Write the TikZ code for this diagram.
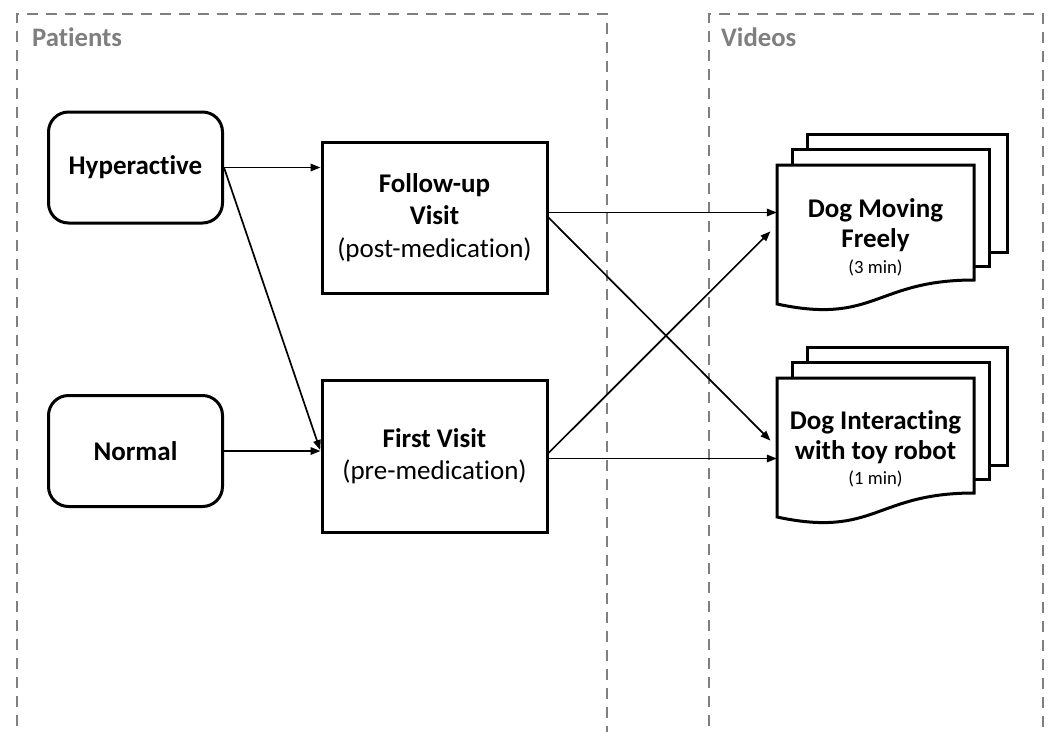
\documentclass[tikz,border=0pt]{standalone}
\usepackage{fontspec}
\setmainfont{Carlito}[Ligatures=NoCommon]
\usetikzlibrary{arrows.meta}
\definecolor{framegray}{HTML}{7F7F7F}

\begin{document}
\begin{tikzpicture}[x=1pt,y=-1pt,
  groupframe/.style={draw=framegray, line width=2.5pt, dash pattern=on 11pt off 8pt},
  grouplabel/.style={text=framegray, font=\fontsize{26.7}{32}\selectfont\bfseries,
    anchor=base west, inner sep=0pt},
  statebox/.style={draw, line width=3pt, rounded corners=20pt,
    minimum width=174pt, minimum height=111pt, inner sep=0pt,
    font=\fontsize{27}{32.6}\selectfont\bfseries},
  visitbox/.style={draw, line width=3pt, minimum width=225pt, minimum height=151pt,
    inner sep=0pt, align=center, font=\fontsize{27}{32.6}\selectfont},
  doctext/.style={inner sep=0pt, minimum width=197pt, align=center,
    font=\fontsize{27}{30}\selectfont\bfseries},
  docline/.style={line width=3pt, line join=miter},
  link/.style={-{Triangle[length=10pt,width=7.5pt]}, line width=1.7pt},
]
\useasboundingbox (0,0) rectangle (1051,731);

% group frames
\draw[groupframe] (17,745) -- (17,14) -- (607,14) -- (607,745);
\draw[groupframe] (709,745) -- (709,14) -- (1043,14) -- (1043,745);
\node[grouplabel] (patients) at (32,46) {Patients};
\node[grouplabel] (videos) at (721,46) {Videos};

% patient groups
\node[statebox] (hyper) at (135.5,167.5) {Hyperactive};
\node[statebox] (normal) at (135.5,451) {Normal};

% visits
\node[visitbox] (followup) at (434.5,217.5)
  {\textbf{Follow-up}\\\textbf{Visit}\\(post-medication)};
\node[visitbox, minimum height=152pt] (first) at (434.5,456)
  {\textbf{First Visit}\\(pre-medication)};

% video stacks (multi-document shapes)
\foreach \dy in {0,213}{
  \begin{scope}[yshift=-\dy pt]
    \draw[docline] (807,149) -- (807,134) -- (1007,134) -- (1007,252) -- (989,252);
    \draw[docline] (792,165) -- (792,149) -- (989,149) -- (989,266) -- (974,266);
    \draw[docline] (777,304) -- (777,165) -- (974,165) -- (974,280)
      .. controls (875,280) and (875,325) .. (777,304) -- cycle;
  \end{scope}
}
\node[doctext] (dogmove) at (875.5,237)
  {Dog Moving\\Freely\\[-4pt]{\mdseries\fontsize{18.7}{22}\selectfont (3 min)}};
\node[doctext] (doginter) at (875.5,449)
  {Dog Interacting\\with toy robot\\[-5pt]{\mdseries\fontsize{18.7}{22}\selectfont (1 min)}};

% connector end points
\coordinate (fu-out) at ([yshift=5pt]followup.east);
\coordinate (fv-out) at ([yshift=-2.5pt]first.east);

% connectors
\draw[link] (hyper.east) -- (followup.west |- hyper.east);
\draw[link, shorten >=1pt] (hyper.east) -- ([yshift=5pt]first.west);
\draw[link] (normal.east) -- (first.west |- normal.east);
\draw[link] (fu-out) -- (dogmove.west |- fu-out);
\draw[link, shorten >=9pt] (followup.east) -- ([yshift=2pt]doginter.west);
\draw[link, shorten >=9pt] ([yshift=3pt]first.east) -- ([yshift=12pt]dogmove.west);
\draw[link] (fv-out) -- (doginter.west |- fv-out);
\end{tikzpicture}
\end{document}
